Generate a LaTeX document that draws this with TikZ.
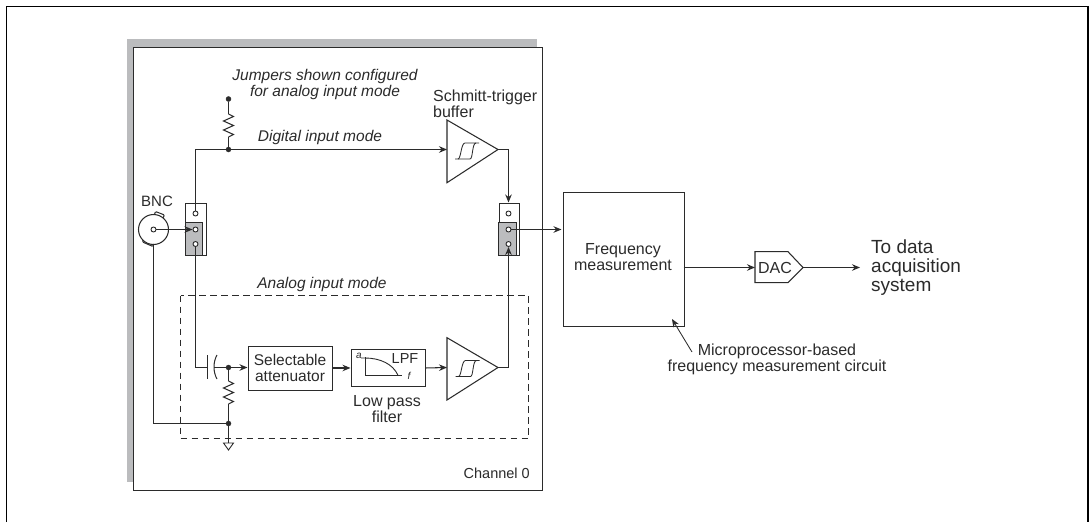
\documentclass[tikz,border=0pt]{standalone}
\usepackage{fontspec}
\setmainfont{Liberation Sans}
\usetikzlibrary{arrows.meta}
\definecolor{ink}{HTML}{2B2B2B}
\definecolor{shadegray}{HTML}{BBBCBE}
\tikzset{
  wire/.style={draw=ink,line width=1.05pt},
  arr/.style={wire,-{Stealth[length=8pt,width=6.5pt]}},
  dot/.style={circle,fill=ink,draw=ink,inner sep=0pt,minimum size=5pt},
  pin/.style={circle,fill=white,draw=ink,line width=0.9pt,inner sep=0pt,minimum size=5pt},
  blk/.style={draw=ink,line width=1.05pt,fill=white},
  lbl/.style={text=ink,font=\fontsize{16}{16}\selectfont,align=center,inner sep=0pt},
  ilbl/.style={lbl,font=\fontsize{15.5}{15.5}\selectfont\itshape},
}
\newcommand{\zigv}[2]{% vertical resistor at x=#1 from y=#2, 23 tall
  \draw[wire,line join=miter] (#1,#2) -- ++(5,2.5) -- ++(-10,4.5) -- ++(10,4.5) -- ++(-10,4.5) -- ++(10,4.5) -- ++(-5,2.5);}
\newcommand{\schmitt}[2]{% hysteresis symbol centred at #1,#2
  \draw[draw=ink,line width=0.85pt] (#1-12,#2+8) -- (#1+3,#2+8) .. controls (#1+6,#2+8) and (#1+5,#2-8) .. (#1+9,#2-8);
  \draw[draw=ink,line width=0.85pt] (#1-9,#2+8) .. controls (#1-6,#2+8) and (#1-6,#2-8) .. (#1-2,#2-8) -- (#1+12,#2-8);}
\begin{document}
\begin{tikzpicture}[x=1pt,y=-1pt]
\useasboundingbox (0,0) rectangle (1091,522);
% outer frame
\coordinate (fa) at (6.5,522); \coordinate (fb) at (6.5,6.5); \coordinate (fc) at (1088,6.5); \coordinate (fd) at (1088,522);
\draw[black,line width=1.3pt] (fa) -- (fb) -- (fc) -- (fd);
% channel shadow and box
\fill[shadegray] (127,39) rectangle (536.5,482);
\node[draw=ink,fill=white,line width=1.2pt,inner sep=0pt,anchor=north west,minimum width=409pt,minimum height=443pt] (chan) at (132.5,46.5) {};
\node[lbl,anchor=east,font=\fontsize{14.5}{15}\selectfont] (chl) at (530,473) {Channel 0};
% dashed box
\draw[draw=ink,line width=0.95pt,dash pattern=on 6.5pt off 4.5pt] (180.5,295.5) rectangle (528.5,438.5);
% jumpers
\node[blk,anchor=north west,minimum width=20.5pt,minimum height=52pt,inner sep=0pt] (j1) at (185,203) {};
\node[draw=ink,fill=shadegray,line width=1.1pt,anchor=north west,minimum width=17.5pt,minimum height=33pt,inner sep=0pt] (j1g) at (184.5,222) {};
\node[blk,anchor=north west,minimum width=20.5pt,minimum height=52pt,inner sep=0pt] (j2) at (498.7,203) {};
\node[draw=ink,fill=shadegray,line width=1.1pt,anchor=north west,minimum width=17.5pt,minimum height=33pt,inner sep=0pt] (j2g) at (498.2,222) {};
% blocks
\node[blk,anchor=north west,minimum width=84pt,minimum height=44pt,inner sep=0pt] (att) at (247.5,345.5) {};
\node[lbl,font=\fontsize{15.5}{16}\selectfont] at (att.center) {Selectable\\attenuator};
\node[blk,anchor=north west,minimum width=74.5pt,minimum height=37.5pt,inner sep=0pt] (lpf) at (350.5,348.7) {};
\node[blk,anchor=north west,minimum width=120.7pt,minimum height=134pt,inner sep=0pt] (freq) at (563,191.7) {};
\node[lbl] at (623,257.5) {Frequency\\measurement};
% triangles
\coordinate (t1a) at (447,120); \coordinate (t1b) at (447,182.7); \coordinate (t1c) at (498,149.5);
\draw[blk] (t1a) -- (t1c) -- (t1b) -- cycle;
\coordinate (t2a) at (447,337.7); \coordinate (t2b) at (447,400); \coordinate (t2c) at (498,367.5);
\draw[blk] (t2a) -- (t2c) -- (t2b) -- cycle;
\schmitt{467}{151}
\schmitt{467.5}{368.5}
% DAC
\coordinate (dl) at (755,267.5); \coordinate (dt) at (803,267.5);
\draw[blk] (755,251.7) -- (788,251.7) -- (dt) -- (788,282.7) -- (755,282.7) -- cycle;
\node[lbl,font=\fontsize{16}{16}\selectfont] at (775,268) {DAC};
% LPF inner
\draw[draw=ink,line width=0.9pt] (365,357) -- (365,375.3) -- (402,375.3);
\draw[draw=ink,line width=0.9pt] (361,358) -- (365,358) .. controls (380,358) and (393,364) .. (398,375.3);
\node[lbl,font=\fontsize{10}{10}\selectfont\itshape] at (359,355.7) {a};
\node[lbl,font=\fontsize{10}{10}\selectfont\itshape] at (409,375.7) {f};
\node[lbl,font=\fontsize{14.5}{15}\selectfont] at (405,358.7) {LPF};
% wiring nodes
\node[dot] (top) at (228.5,99) {};
\node[dot] (jn) at (228.5,149.5) {};
\node[dot] (jc) at (228.5,367.5) {};
\node[dot] (jg) at (228.5,423.5) {};
\coordinate (r1a) at (228.5,114); \coordinate (r1b) at (228.5,137);
\coordinate (r2a) at (228.5,381); \coordinate (r2b) at (228.5,404);
\draw[wire] (top) -- (r1a); \zigv{228.5}{114} \draw[wire] (r1b) -- (jn);
\draw[wire] (jc) -- (r2a); \zigv{228.5}{381} \draw[wire] (r2b) -- (jg);
% BNC
\node[circle,draw=ink,fill=white,line width=1.05pt,minimum size=30pt,inner sep=0pt] (bnc) at (153.5,229.5) {};
\draw[draw=ink,line width=1pt,rounded corners=1pt] (154.5,214.5) -- (155.5,211.5) -- (164.5,215) -- (163,218);
\draw[draw=ink,line width=1pt,rounded corners=1pt] (143,240) -- (142.5,242) -- (153,246.5) -- (154,244);
\node[pin] (bc) at (153.5,229.5) {};
\node[pin] (p11) at (195.5,213.5) {};
\node[pin] (p12) at (195.5,229.5) {};
\node[pin] (p13) at (195.5,244) {};
\node[pin] (p21) at (508.5,213.5) {};
\node[pin] (p22) at (508.5,229.5) {};
\node[pin] (p23) at (508.5,244) {};
% connectors
\draw[wire] (p11) -- (195.5,149.5) -- (jn);
\draw[arr] (jn) -- (t1a |- jn);
\draw[arr] (bc) -- (p12);
\coordinate (capa) at (207,367.5);
\draw[wire] (p13) -- (195.5,367.5) -- (capa);
\draw[draw=ink,line width=1pt] (207.5,355) -- (207.5,379);
\draw[draw=ink,line width=1pt] (217,355) .. controls (213,362) and (213,372) .. (217,379);
\draw[wire] (214,367.5) -- (jc);
\draw[arr] (jc) -- (att.west |- jc);
\draw[arr] (att.east |- lpf.west) -- (lpf.west);
\draw[arr] (lpf.east) -- (447,367.5);
\draw[wire] (bnc.south) -- (153.5,423.5) -- (jg);
\coordinate (gt) at (228.5,443);
\draw[wire] (jg) -- (gt);
\draw[blk,line width=0.9pt] (223.5,443) -- (233.5,443) -- (228.5,450) -- cycle;
\draw[arr] (t1c) -- (508.5,149.5) -- (508.5,202.5);
\draw[arr] (t2c) -- (508.5,367.5) -- (p23.south);
\draw[arr] (p22) -- (561.5,229.5);
\draw[wire,line width=1.6pt] (683.7,267.5) -- (745,267.5);
\draw[arr] (745,267.5) -- (dl);
\draw[arr] (dt) -- (860,267.5);
\coordinate (mc) at (692,352); \coordinate (mt) at (672,319);
\draw[arr,line width=0.85pt] (mc) -- (mt);
% labels
\node[ilbl] (jt) at (325,84.5) {Jumpers shown configured\\for analog input mode};
\node[ilbl] (dg) at (320,137) {Digital input mode};
\node[ilbl] (an) at (322,284) {Analog input mode};
\node[lbl,align=left,anchor=west] (sm) at (433,104) {Schmitt-trigger\\buffer};
\node[lbl,font=\fontsize{15}{15}\selectfont] (bn) at (157,201) {BNC};
\node[lbl] (lp) at (387,409.5) {Low pass\\filter};
\node[lbl] (mp) at (777,359) {Microprocessor-based\\frequency measurement circuit};
\node[lbl,align=left,anchor=west,font=\fontsize{19}{19}\selectfont] (td) at (871,267.5) {To data\\acquisition\\system};
\end{tikzpicture}
\end{document}
